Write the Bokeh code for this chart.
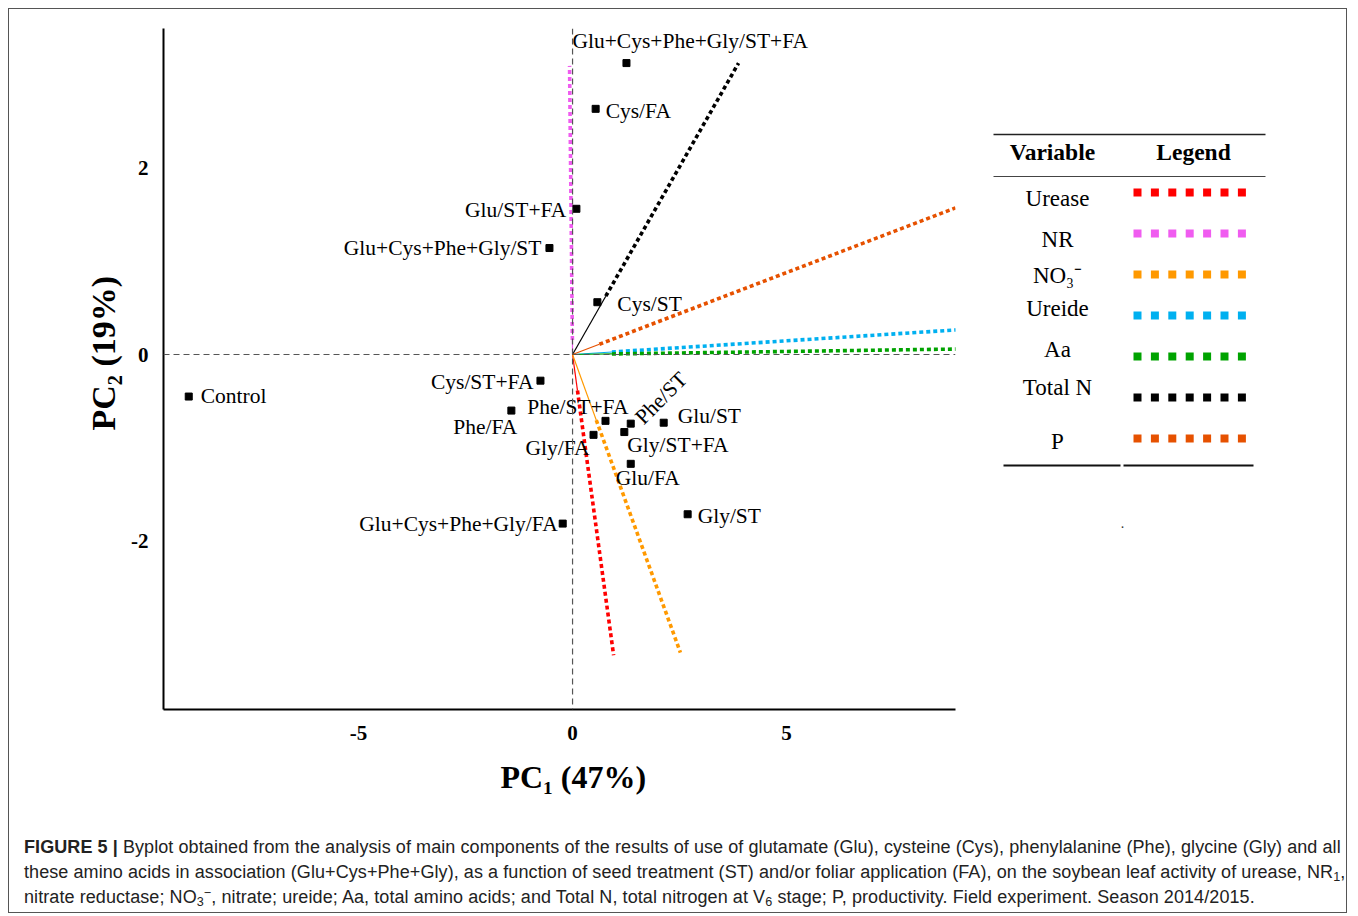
import numpy as np
from bokeh.plotting import figure
from bokeh.models import Range1d, FixedTicker, Span, ColumnDataSource, Div, Title
from bokeh.layouts import column, row
from bokeh.core.properties import value
from bokeh.embed import file_html
from bokeh.resources import INLINE

# ---------------- data ----------------
treatments = ["Glu+Cys+Phe+Gly/ST+FA", "Cys/FA", "Glu/ST+FA", "Glu+Cys+Phe+Gly/ST",
              "Cys/ST", "Control", "Cys/ST+FA", "Phe/FA", "Phe/ST+FA", "Phe/ST",
              "Gly/ST+FA", "Glu/ST", "Gly/FA", "Glu/FA", "Gly/ST", "Glu+Cys+Phe+Gly/FA"]
pc1 = [1.26, 0.54, 0.09, -0.54, 0.58, -8.97, -0.75, -1.43, 0.77, 1.36,
       1.21, 2.13, 0.49, 1.36, 2.69, -0.23]
pc2 = [3.12, 2.63, 1.56, 1.14, 0.56, -0.45, -0.28, -0.60, -0.71, -0.74,
       -0.83, -0.73, -0.86, -1.17, -1.71, -1.81]

variables = ["Urease", "NR", "NO₃⁻", "Ureide", "Aa", "Total N", "P"]
load_pc1 = [0.96, -0.07, 2.52, 9.2, 9.2, 3.88, 8.95]
load_pc2 = [-3.22, 3.09, -3.19, 0.27, 0.06, 3.12, 1.57]

x_ticks = [-5, 0, 5]
y_ticks = [-2, 0, 2]
x_tick_labels = {-5: "-5", 0: "0", 5: "5"}
y_tick_labels = {-2: "-2", 0: "0", 2: "2"}
x_title = "PC₁ (47%)"
y_title = "PC₂ (19%)"

# ---------------- styles ----------------
var_colors = ["#ff0000", "#f05cf0", "#ff9900", "#00b0f0", "#00a300", "#000000", "#e65100"]
solid_frac = [0.12, 0.05, 0.22, 0.10, 0.10, 0.20, 0.07]
SERIF = "Liberation Serif"

# label offsets (pixels, y down), alignment, angle
lab_dx = [-54, 10, -10, -8, 20, 12, -7, 6, 23, 8, 3, 14, -4, -15, 10, -5]
lab_dy = [-22, 2, 1, 0, 2, -1, 1, 16, -14, -3, 13, -7, 13, 14, 2, 0]
lab_align = ["left", "left", "right", "right", "left", "left", "right", "right",
             "right", "left", "left", "left", "right", "left", "left", "right"]
lab_angle = [0, 0, 0, 0, 0, 0, 0, 0, 0, np.pi / 4, 0, 0, 0, 0, 0, 0]

# ---------------- main biplot ----------------
p = figure(width=951, height=801, output_backend="svg", toolbar_location=None,
           x_range=Range1d(-9.56, 8.95), y_range=Range1d(-3.80, 3.49),
           min_border_left=154, min_border_right=5, min_border_top=19,
           min_border_bottom=101)
p.outline_line_color = None
p.grid.visible = False
p.background_fill_color = "white"
p.border_fill_color = "white"

for ax, ticks, labs in ((p.xaxis, x_ticks, x_tick_labels),
                        (p.yaxis, y_ticks, y_tick_labels)):
    ax.ticker = FixedTicker(ticks=ticks)
    ax.major_label_overrides = labs
    ax.major_tick_out = 0
    ax.major_tick_in = 0
    ax.minor_tick_out = 0
    ax.minor_tick_in = 0
    ax.axis_line_width = 2
    ax.axis_line_color = "black"
    ax.major_label_text_font = SERIF
    ax.major_label_text_font_style = "bold"
    ax.major_label_text_font_size = "21px"
    ax.major_label_text_color = "black"
p.xaxis.major_label_standoff = 16
p.yaxis.major_label_standoff = 15

# axis titles, placed (as in the original) around the zero lines rather than frame centre
p.add_layout(Title(text=x_title, align="left", offset=337, text_font=SERIF,
                   text_font_style="bold", text_font_size="32px", text_color="black",
                   standoff=28), "below")
p.add_layout(Title(text=y_title, align="left", offset=279, text_font=SERIF,
                   text_font_style="bold", text_font_size="34px", text_color="black",
                   standoff=14), "left")

p.add_layout(Span(location=0, dimension="width", line_color="#555555",
                  line_dash="6 4", line_width=1.2))
p.add_layout(Span(location=0, dimension="height", line_color="#555555",
                  line_dash="6 4", line_width=1.2))

# loading vectors
for lx, ly, c, f in zip(load_pc1, load_pc2, var_colors, solid_frac):
    p.segment(x0=[0], y0=[0], x1=[lx * f], y1=[ly * f], line_color=c, line_width=1.2)
    p.segment(x0=[lx * f], y0=[ly * f], x1=[lx], y1=[ly], line_color=c,
              line_width=3.6, line_dash="4 3", line_cap="butt")

src = ColumnDataSource(dict(x=pc1, y=pc2, t=treatments, dx=lab_dx, dy=lab_dy,
                            al=lab_align, an=lab_angle))
p.scatter("x", "y", source=src, marker="square", size=7, fill_color="black",
          line_color="black")
p.text("x", "y", text="t", source=src, x_offset="dx", y_offset="dy",
       text_align="al", angle="an", text_baseline="middle",
       text_font=value(SERIF), text_font_size="21.5px", text_color="black")

# ---------------- legend table (page-pixel coordinates of the aligned frame) ----------------
lg = figure(width=386, height=801, output_backend="svg", toolbar_location=None,
            x_range=Range1d(960, 1346), y_range=Range1d(709, 28),
            min_border=0, min_border_left=0, min_border_right=0,
            min_border_top=19, min_border_bottom=101)
lg.axis.visible = False
lg.grid.visible = False
lg.outline_line_color = None

lg.segment(x0=[993], y0=[134], x1=[1265], y1=[134], line_color="#222222", line_width=1.6)
lg.segment(x0=[993], y0=[176], x1=[1265], y1=[176], line_color="#444444", line_width=1.0)
lg.segment(x0=[1003, 1123], y0=[465, 465], x1=[1120, 1253], y1=[465, 465],
           line_color="#111111", line_width=2.2)
lg.text(x=[1052, 1193], y=[151, 151], text=["Variable", "Legend"],
        text_font=value(SERIF), text_font_style="bold", text_font_size="23.5px",
        text_align="center", text_baseline="middle", text_color="black")

n = len(variables)
row_y = [192 + 41 * i for i in range(n)]
text_shift = [6, 6, 1, -7, -7, -10, 3]
lg.text(x=[1057] * n, y=[ry + s for ry, s in zip(row_y, text_shift)], text=variables,
        text_font=value(SERIF), text_font_size="23px", text_align="center",
        text_baseline="middle", text_color="black")
dx_list, dy_list, dc_list = [], [], []
for ry, c in zip(row_y, var_colors):
    for k in range(7):
        dx_list.append(1137 + 17.4 * k)
        dy_list.append(ry)
        dc_list.append(c)
lg.scatter(x=dx_list, y=dy_list, marker="square", size=8, fill_color=dc_list,
           line_color=None)
lg.text(x=[1122], y=[522], text=["."], text_font=value(SERIF), text_font_size="14px",
        text_align="center", text_baseline="middle", text_color="#333333")

# ---------------- caption ----------------
SUB = "<sub style='line-height:0;font-size:70%;vertical-align:-0.25em'>"
SUP = "<sup style='line-height:0;font-size:70%;vertical-align:0.5em'>"
caption = Div(width=1337, height=102, margin=0, text=(
    "<div style=\"font-family:'Liberation Sans',Arial,sans-serif;font-size:18px;"
    "line-height:25px;color:#222;padding:25px 0 0 15px;white-space:nowrap;"
    "letter-spacing:0.08px;\">"
    "<b>FIGURE 5 |</b> Byplot obtained from the analysis of main components of the results of use "
    "of glutamate (Glu), cysteine (Cys), phenylalanine (Phe), glycine (Gly) and all<br>"
    "these amino acids in association (Glu+Cys+Phe+Gly), as a function of seed treatment (ST) "
    "and/or foliar application (FA), on the soybean leaf activity of urease, NR" + SUB + "1</sub>,<br>"
    "nitrate reductase; NO" + SUB + "3</sub>" + SUP + "\u2212</sup>, nitrate; ureide; Aa, total amino acids; "
    "and Total N, total nitrogen at V" + SUB + "6</sub> stage; P, productivity. Field experiment. "
    "Season 2014/2015."
    "</div>"))

layout = column(row(p, lg), caption,
                styles={"border": "1.5px solid #555555", "background": "white",
                        "margin-left": "8px", "margin-top": "8px"})

open("out.html", "w").write(file_html(layout, INLINE))
